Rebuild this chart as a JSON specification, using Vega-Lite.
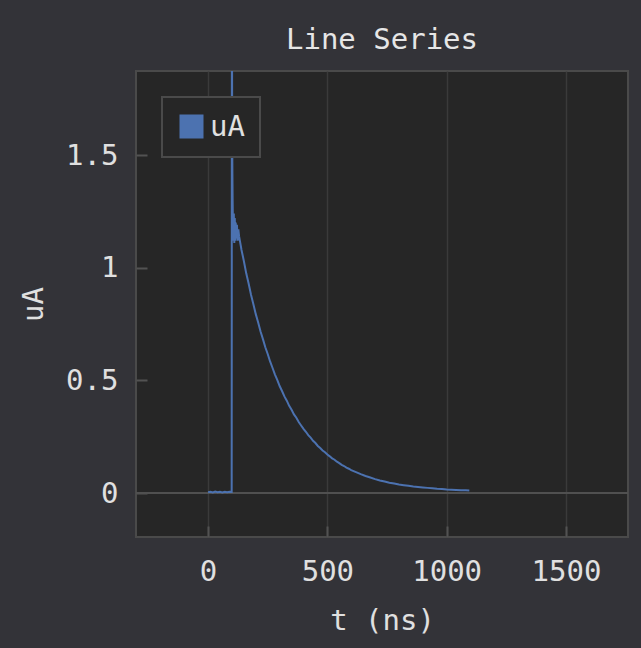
{
  "$schema": "https://vega.github.io/schema/vega-lite/v6.json",
  "autosize": {"type": "none"},
  "width": 492,
  "height": 466,
  "padding": {"left": 136, "top": 71, "right": 13, "bottom": 111},
  "background": "#333338",
  "title": {"text": "Line Series", "font": "DejaVu Sans Mono", "fontSize": 29, "fontWeight": "normal", "color": "#e6e6e6", "offset": 16, "anchor": "middle"},
  "config": {
    "view": {"fill": "#262626", "stroke": "#4a4a4a", "strokeWidth": 2},
    "axis": {
      "domain": false,
      "gridColor": "#3a3a3a",
      "gridWidth": 1.5,
      "tickColor": "#525252",
      "tickWidth": 2,
      "tickSize": -11,
      "labelFont": "DejaVu Sans Mono",
      "labelFontSize": 29,
      "labelColor": "#e0e0e0",
      "titleFont": "DejaVu Sans Mono",
      "titleFontSize": 29,
      "titleFontWeight": "normal",
      "titleColor": "#e0e0e0"
    }
  },
  "data": {"values": [
    {"t": 0, "v": 0.004}, {"t": 10, "v": 0.006}, {"t": 20, "v": 0.003}, {"t": 30, "v": 0.007}, {"t": 40, "v": 0.004},
    {"t": 50, "v": 0.006}, {"t": 60, "v": 0.003}, {"t": 70, "v": 0.006}, {"t": 80, "v": 0.004}, {"t": 90, "v": 0.006},
    {"t": 99, "v": 0.005}, {"t": 100, "v": 2.4}, {"t": 101, "v": 1.6}, {"t": 102, "v": 1.42}, {"t": 103, "v": 1.3},
    {"t": 104, "v": 1.22}, {"t": 106, "v": 1.12}, {"t": 108, "v": 1.24}, {"t": 110, "v": 1.11}, {"t": 112, "v": 1.22},
    {"t": 114, "v": 1.12}, {"t": 116, "v": 1.2}, {"t": 118, "v": 1.13}, {"t": 121, "v": 1.19}, {"t": 124, "v": 1.12},
    {"t": 127, "v": 1.17}, {"t": 130, "v": 1.14}, {"t": 135, "v": 1.11}, {"t": 140, "v": 1.08}, {"t": 150, "v": 1.03},
    {"t": 160, "v": 0.975}, {"t": 170, "v": 0.93}, {"t": 180, "v": 0.88}, {"t": 190, "v": 0.838}, {"t": 200, "v": 0.794},
    {"t": 210, "v": 0.757}, {"t": 220, "v": 0.717}, {"t": 230, "v": 0.683}, {"t": 240, "v": 0.647}, {"t": 250, "v": 0.617},
    {"t": 260, "v": 0.584}, {"t": 270, "v": 0.556}, {"t": 280, "v": 0.527}, {"t": 290, "v": 0.502}, {"t": 300, "v": 0.475},
    {"t": 310, "v": 0.453}, {"t": 320, "v": 0.429}, {"t": 330, "v": 0.41}, {"t": 340, "v": 0.387}, {"t": 350, "v": 0.37},
    {"t": 360, "v": 0.349}, {"t": 370, "v": 0.334}, {"t": 380, "v": 0.315}, {"t": 390, "v": 0.3}, {"t": 400, "v": 0.285},
    {"t": 410, "v": 0.272}, {"t": 420, "v": 0.257}, {"t": 430, "v": 0.246}, {"t": 440, "v": 0.232}, {"t": 450, "v": 0.222},
    {"t": 460, "v": 0.209}, {"t": 470, "v": 0.2}, {"t": 480, "v": 0.189}, {"t": 490, "v": 0.181}, {"t": 500, "v": 0.171},
    {"t": 510, "v": 0.163}, {"t": 520, "v": 0.154}, {"t": 530, "v": 0.148}, {"t": 540, "v": 0.139}, {"t": 550, "v": 0.133},
    {"t": 560, "v": 0.125}, {"t": 570, "v": 0.12}, {"t": 580, "v": 0.113}, {"t": 590, "v": 0.108}, {"t": 600, "v": 0.102},
    {"t": 620, "v": 0.093}, {"t": 640, "v": 0.084}, {"t": 660, "v": 0.076}, {"t": 680, "v": 0.069}, {"t": 700, "v": 0.062},
    {"t": 720, "v": 0.056}, {"t": 740, "v": 0.051}, {"t": 760, "v": 0.046}, {"t": 780, "v": 0.042}, {"t": 800, "v": 0.038},
    {"t": 820, "v": 0.035}, {"t": 840, "v": 0.032}, {"t": 860, "v": 0.029}, {"t": 880, "v": 0.027}, {"t": 900, "v": 0.025},
    {"t": 920, "v": 0.023}, {"t": 940, "v": 0.021}, {"t": 960, "v": 0.019}, {"t": 980, "v": 0.018}, {"t": 1000, "v": 0.016},
    {"t": 1020, "v": 0.015}, {"t": 1040, "v": 0.014}, {"t": 1060, "v": 0.013}, {"t": 1080, "v": 0.012}, {"t": 1095, "v": 0.011}
  ]},
  "layer": [
    {
      "mark": {"type": "rule", "color": "#505050", "strokeWidth": 2},
      "encoding": {"y": {"datum": 0, "type": "quantitative"}}
    },
    {
      "mark": {"type": "line", "strokeWidth": 2, "clip": true},
      "encoding": {
        "x": {
          "field": "t", "type": "quantitative",
          "scale": {"domain": [-302, 1760], "nice": false, "zero": false},
          "axis": {"title": "t (ns)", "values": [0, 500, 1000, 1500], "format": "d", "labelPadding": 31, "titlePadding": 20}
        },
        "y": {
          "field": "v", "type": "quantitative",
          "scale": {"domain": [-0.195, 1.873], "nice": false, "zero": false},
          "axis": {"title": "uA", "values": [0, 0.5, 1, 1.5], "format": "~g", "labelPadding": 29, "titlePadding": 17}
        },
        "color": {
          "datum": "uA",
          "scale": {"range": ["#4C72B0"]},
          "legend": {
            "title": null,
            "orient": "top-left",
            "offset": 26,
            "fillColor": "#262626",
            "strokeColor": "#4a4a4a",
            "padding": 15,
            "symbolType": "square",
            "symbolSize": 576,
            "symbolFillColor": "#4C72B0",
            "symbolStrokeColor": "#4C72B0",
            "symbolStrokeWidth": 0,
            "symbolOpacity": 1,
            "labelFont": "DejaVu Sans Mono",
            "labelFontSize": 29,
            "labelColor": "#e0e0e0",
            "labelOffset": 4,
            "encode": {
              "legend": {"update": {"strokeWidth": {"value": 2}}},
              "symbols": {"update": {"fill": {"value": "#4C72B0"}, "strokeWidth": {"value": 0}}}
            }
          }
        }
      }
    }
  ]
}
